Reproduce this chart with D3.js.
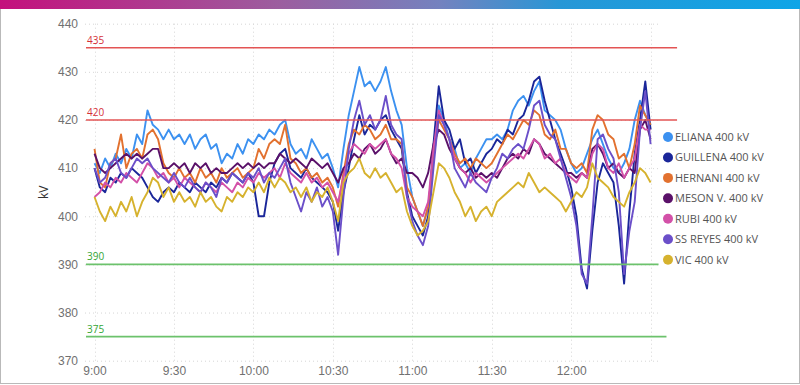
<!DOCTYPE html>
<html>
<head>
<meta charset="utf-8">
<script src="https://cdn.jsdelivr.net/npm/d3@7"></script>
<style>
    body { margin: 0; background: #fff; }
    svg { display: block; font-family: "Open Sans", "Noto Sans", sans-serif; }
</style>
</head>
<body>
<svg id="chart" width="800" height="385"></svg>
<script>
/**
 * Data. One sample every 2 minutes, starting at 9:00.
 */
const stations = ['ELIANA 400 kV', 'GUILLENA 400 kV', 'HERNANI 400 kV', 'MESON V. 400 kV',
    'RUBI 400 kV', 'SS REYES 400 kV', 'VIC 400 kV'];

const eliana = [411, 409, 412, 410, 413, 411, 414, 412, 417, 415,
    422, 419, 418, 416, 418, 416, 417, 415, 417, 414,
    416, 417, 414, 415, 411, 413, 412, 415, 413, 416,
    415, 417, 416, 418, 417, 419, 420, 415, 413, 414,
    412, 416, 414, 412, 413, 410, 406, 414, 421, 426,
    431, 427, 428, 426, 428, 431, 426, 422, 419, 410,
    404, 401, 398, 402, 412, 423, 420, 416, 414, 410,
    411, 409, 412, 414, 416, 416, 417, 416, 418, 422,
    424, 425, 423, 426, 428, 422, 421, 420, 418, 414,
    411, 409, 410, 413, 416, 418, 415, 412, 410, 409,
    411, 414, 420, 424, 421, 419];

const guillena = [410, 406, 405, 408, 407, 409, 408, 410, 409, 408,
    406, 404, 403, 405, 406, 405, 407, 406, 405, 407,
    406, 405, 407, 406, 408, 407, 409, 408, 407, 409,
    407, 400, 400, 407, 411, 413, 414, 410, 409, 408,
    410, 408, 407, 406, 405, 403, 397, 405, 410, 416,
    421, 417, 419, 418, 420, 421, 418, 416, 414, 405,
    400, 398, 396, 400, 415, 427, 420, 418, 414, 416,
    411, 412, 409, 411, 413, 414, 416, 415, 418, 417,
    420, 421, 424, 428, 429, 424, 420, 416, 413, 410,
    406, 400, 389, 385, 397, 407, 411, 409, 407, 398,
    386, 401, 413, 420, 428, 418];

const hernani = [414, 407, 406, 411, 412, 417, 410, 413, 414, 412,
    417, 418, 416, 411, 409, 408, 410, 408, 409, 407,
    410, 408, 409, 407, 410, 408, 409, 410, 408, 409,
    410, 414, 412, 415, 416, 415, 419, 412, 411, 409,
    410, 408, 409, 407, 408, 406, 402, 409, 415, 418,
    417, 419, 418, 416, 417, 419, 416, 416, 415, 406,
    404, 401, 398, 402, 412, 420, 418, 416, 413, 411,
    412, 410, 412, 411, 410, 411, 413, 415, 417, 416,
    418, 420, 419, 422, 421, 417, 416, 418, 414, 414,
    411, 410, 411, 409, 418, 421, 420, 417, 416, 412,
    413, 410, 415, 423, 421, 419];

const meson = [413, 410, 409, 410, 411, 412, 413, 412, 413, 412,
    413, 414, 414, 410, 410, 411, 410, 411, 409, 411,
    410, 411, 409, 410, 409, 409, 410, 411, 410, 411,
    410, 411, 410, 411, 411, 413, 412, 411, 412, 411,
    410, 412, 411, 410, 411, 409, 407, 410, 411, 413,
    412, 414, 415, 413, 414, 416, 413, 411, 412, 409,
    409, 408, 406, 409, 415, 418, 417, 414, 412, 410,
    409, 410, 408, 409, 408, 409, 408, 410, 412, 413,
    412, 414, 413, 416, 415, 413, 412, 411, 410, 409,
    409, 408, 409, 408, 414, 415, 413, 410, 411, 409,
    408, 410, 409, 418, 420, 416];

const rubi = [404, 405, 407, 406, 408, 407, 409, 408, 407, 409,
    411, 410, 408, 409, 407, 408, 406, 408, 407, 406,
    405, 407, 406, 405, 407, 406, 405, 407, 406, 408,
    407, 409, 408, 409, 410, 408, 411, 409, 408, 407,
    409, 407, 408, 406, 407, 405, 403, 408, 413, 415,
    414, 413, 415, 414, 415, 416, 413, 412, 410, 404,
    402, 401, 400, 403, 414, 422, 419, 416, 412, 410,
    409, 407, 409, 408, 407, 408, 409, 410, 411, 412,
    413, 412, 414, 416, 415, 412, 413, 411, 412, 409,
    408, 407, 409, 408, 413, 415, 414, 410, 409, 411,
    408, 410, 412, 419, 418, 418];

const ssReyes = [410, 407, 408, 411, 412, 409, 408, 410, 412, 411,
    412, 410, 409, 408, 407, 409, 407, 406, 408, 406,
    405, 407, 406, 404, 408, 407, 409, 408, 407, 409,
    408, 410, 407, 409, 408, 410, 412, 407, 404, 401,
    405, 403, 406, 402, 404, 401, 392, 404, 414, 420,
    424, 419, 421, 418, 420, 425, 419, 417, 416, 404,
    399, 396, 394, 398, 410, 421, 419, 416, 410, 408,
    406, 409, 407, 406, 405, 408, 410, 413, 412, 414,
    415, 414, 418, 423, 424, 419, 417, 416, 412, 408,
    404, 398, 388, 386, 400, 416, 417, 414, 412, 405,
    388, 397, 403, 418, 426, 415];

const vic = [404, 401, 399, 402, 400, 403, 401, 404, 400, 403,
    405, 408, 407, 404, 406, 403, 405, 403, 404, 402,
    405, 403, 404, 402, 401, 404, 403, 405, 404, 406,
    405, 407, 405, 408, 406, 408, 407, 405, 406, 404,
    406, 403, 405, 404, 406, 403, 399, 407, 409, 410,
    412, 409, 408, 410, 408, 409, 407, 405, 406, 401,
    398, 396, 397, 399, 405, 411, 410, 408, 405, 403,
    400, 402, 399, 401, 402, 400, 403, 404, 405, 406,
    407, 406, 409, 407, 405, 406, 405, 404, 403, 401,
    403, 405, 404, 406, 411, 408, 407, 406, 404, 403,
    402, 405, 407, 410, 409, 407];

const seriesValues = [eliana, guillena, hernani, meson, rubi, ssReyes, vic];
const colors = ['#3c91f0', '#1a2699', '#e2712f', '#5a1169', '#d351a8', '#6b4fc9', '#d6b22e'];

const sampleMinutes = 2;
const yTicks = [370, 380, 390, 400, 410, 420, 430, 440];
const xTickLabels = ['9:00', '9:30', '10:00', '10:30', '11:00', '11:30', '12:00'];
const xGridMinutes = [0, 30, 60, 90, 120, 150, 180, 210];

// Limit lines: value, kind, end (minutes after 9:00)
const limitValues = [435, 420, 390, 375];
const limitKinds = ['high', 'high', 'low', 'low'];
const limitEnds = [220, 220, 213, 216];

/**
 * Visual configs.
 */
const svg = d3.select('#chart');
const plot = { left: 85, right: 658, top: 23.7, bottom: 360.7 };
const limitColor = { high: '#e35454', low: '#6cc26c' },
    limitText = { high: '#d52f38', low: '#34a534' };

/**
 * D3.
 */
const xScale = d3.scaleLinear().domain([-3.6, 212.8]).range([plot.left, plot.right]),
    yScale = d3.scaleLinear().domain([370, 440]).range([plot.bottom, plot.top]),
    line = d3.line().x((d, i) => xScale(i * sampleMinutes)).y(d => yScale(d));

/**
 * Frame and top bar.
 */
const grad = svg.append('defs').append('linearGradient').attr('id', 'topbar');
[['0%', '#c4107c'], ['35%', '#9c5e9f'], ['55%', '#7482bf'], ['70%', '#2797d6'], ['100%', '#0ea5e7']]
    .forEach(s => grad.append('stop').attr('offset', s[0]).attr('stop-color', s[1]));

svg.append('rect').attr('x', 0.5).attr('y', 0.5).attr('width', 799).attr('height', 383)
    .attr('fill', '#fff').attr('stroke', '#b9b9b9');
svg.append('rect').attr('x', 0).attr('y', 0).attr('width', 800).attr('height', 9)
    .attr('fill', 'url(#topbar)');

/**
 * Grid.
 */
const grid = svg.append('g').attr('class', 'grid')
    .attr('stroke', '#d6d6d6').attr('stroke-dasharray', '1,3');
grid.selectAll('line.h').data(yTicks).enter().append('line')
    .attr('class', 'h')
    .attr('x1', plot.left).attr('x2', plot.right)
    .attr('y1', d => yScale(d) + 0.5).attr('y2', d => yScale(d) + 0.5);
grid.selectAll('line.v').data(xGridMinutes).enter().append('line')
    .attr('class', 'v')
    .attr('x1', d => Math.round(xScale(d)) + 0.5).attr('x2', d => Math.round(xScale(d)) + 0.5)
    .attr('y1', plot.top).attr('y2', plot.bottom + 2);

/**
 * Axes.
 */
const yAxis = d3.axisLeft(yScale).tickValues(yTicks).tickSize(0).tickPadding(7);
svg.append('g').attr('transform', 'translate(' + plot.left + ',0)')
    .call(yAxis)
    .call(g => g.select('.domain').remove())
    .selectAll('text').attr('fill', '#707070').style('font-size', '12px');

const xAxis = d3.axisBottom(xScale)
    .tickValues(xTickLabels.map((d, i) => xGridMinutes[i]))
    .tickFormat((d, i) => xTickLabels[i])
    .tickSize(0).tickPadding(6);
svg.append('g').attr('transform', 'translate(0,' + plot.bottom + ')')
    .call(xAxis)
    .call(g => g.select('.domain').remove())
    .selectAll('text').attr('fill', '#707070').style('font-size', '12px');

svg.append('text')
    .attr('transform', 'translate(48,' + ((plot.top + plot.bottom) / 2) + ') rotate(-90)')
    .attr('text-anchor', 'middle')
    .attr('fill', '#333').style('font-size', '12px')
    .text('kV');

/**
 * Series lines, in legend order (last on top).
 */
svg.append('g').attr('class', 'series')
    .selectAll('path').data(seriesValues).enter().append('path')
    .attr('d', d => line(d))
    .attr('fill', 'none')
    .attr('stroke', (d, i) => colors[i])
    .attr('stroke-width', 1.9)
    .attr('stroke-linejoin', 'round');

/**
 * Limit lines with their labels.
 */
const limits = svg.append('g').attr('class', 'limits')
    .selectAll('g').data(limitValues).enter().append('g');
limits.append('line')
    .attr('x1', plot.left + 1).attr('x2', (d, i) => xScale(limitEnds[i]))
    .attr('y1', d => yScale(d)).attr('y2', d => yScale(d))
    .attr('stroke', (d, i) => limitColor[limitKinds[i]])
    .attr('stroke-width', 1.6);
limits.append('text')
    .attr('x', plot.left + 2).attr('y', d => yScale(d) - 4)
    .attr('fill', (d, i) => limitText[limitKinds[i]])
    .style('font-size', '10px')
    .text(d => d);

/**
 * Legend.
 */
const legend = svg.append('g').attr('transform', 'translate(668,137)')
    .selectAll('g').data(stations).enter().append('g')
    .attr('transform', (d, i) => 'translate(0,' + (i * 20.45) + ')');
legend.append('circle').attr('r', 5).attr('fill', (d, i) => colors[i]);
legend.append('text')
    .attr('x', 7).attr('dy', '0.35em')
    .attr('fill', '#555').style('font-size', '11px')
    .text(d => d);
</script>
</body>
</html>
